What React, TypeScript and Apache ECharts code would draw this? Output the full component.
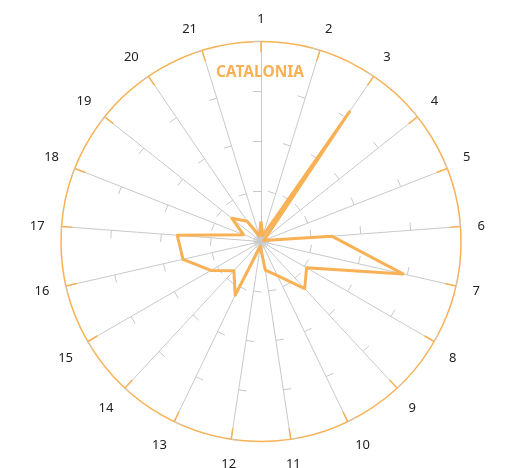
import React, { useEffect, useRef } from "react";
import * as echarts from "echarts";

const categories = ["1","2","3","4","5","6","7","8","9","10","11","12","13","14","15","16","17","18","19","20","21"];
const values = [10, 3, 78.5, 3, 1.5, 35.5, 72.8, 26.3, 32.1, 19, 14.5, 2.5, 29.8, 19.9, 28.9, 40, 42, 9.4, 18.6, 12.3, 3];
const maxValue = 100;
const title = "CATALONIA";

const ORANGE = "#f8b155";
const GREY = "#c9c9c9";

export default function App() {
  const ref = useRef<HTMLDivElement>(null);
  useEffect(() => {
    if (!ref.current) return;
    const chart = echarts.init(ref.current, undefined, { renderer: "svg" });
    // radar lays indicators counterclockwise; reorder so that they read clockwise
    const order = [0, ...categories.map((_, i) => i).slice(1).reverse()];
    const indicators = order.map((i) => ({ name: categories[i], min: 0, max: maxValue }));
    const radarValues = order.map((i) => values[i]);
    const center = [261, 241.5];
    const radius = 200;
    chart.setOption({
      animation: false,
      graphic: [
        {
          type: "text",
          x: 260,
          y: 71,
          z: 10,
          style: {
            text: title,
            fill: ORANGE,
            fontSize: 15.5,
            fontWeight: "bold",
            fontFamily: "Noto Sans",
            align: "center",
            verticalAlign: "middle",
          },
        },
      ],
      polar: { center, radius },
      angleAxis: {
        type: "category",
        data: categories,
        startAngle: 90,
        clockwise: true,
        boundaryGap: false,
        z: 5,
        axisLine: { show: false },
        axisTick: { show: true, inside: true, length: 11, lineStyle: { color: ORANGE, width: 1.5 } },
        axisLabel: { show: true, margin: 17, color: "#222", fontSize: 13, fontFamily: "Noto Sans" },
        splitLine: { show: false },
      },
      radiusAxis: { min: 0, max: maxValue, show: false },
      radar: {
        center,
        radius,
        shape: "circle",
        startAngle: 90,
        splitNumber: 4,
        indicator: indicators,
        axisName: { show: false },
        axisLine: { show: true, lineStyle: { color: GREY, width: 1 } },
        axisTick: { show: true, length: 8, lineStyle: { color: GREY, width: 1 } },
        splitLine: {
          show: true,
          lineStyle: {
            color: ["rgba(0,0,0,0)", "rgba(0,0,0,0)", "rgba(0,0,0,0)", "rgba(0,0,0,0)", ORANGE],
            width: 1.5,
          },
        },
        splitArea: { show: false },
      },
      series: [
        {
          type: "radar",
          symbol: "none",
          z: 4,
          lineStyle: { color: ORANGE, width: 3 },
          data: [{ value: radarValues, name: title }],
        },
      ],
    });
    return () => chart.dispose();
  }, []);
  return <div ref={ref} style={{ position: "fixed", left: 0, top: 0, width: 513, height: 468 }} />;
}
